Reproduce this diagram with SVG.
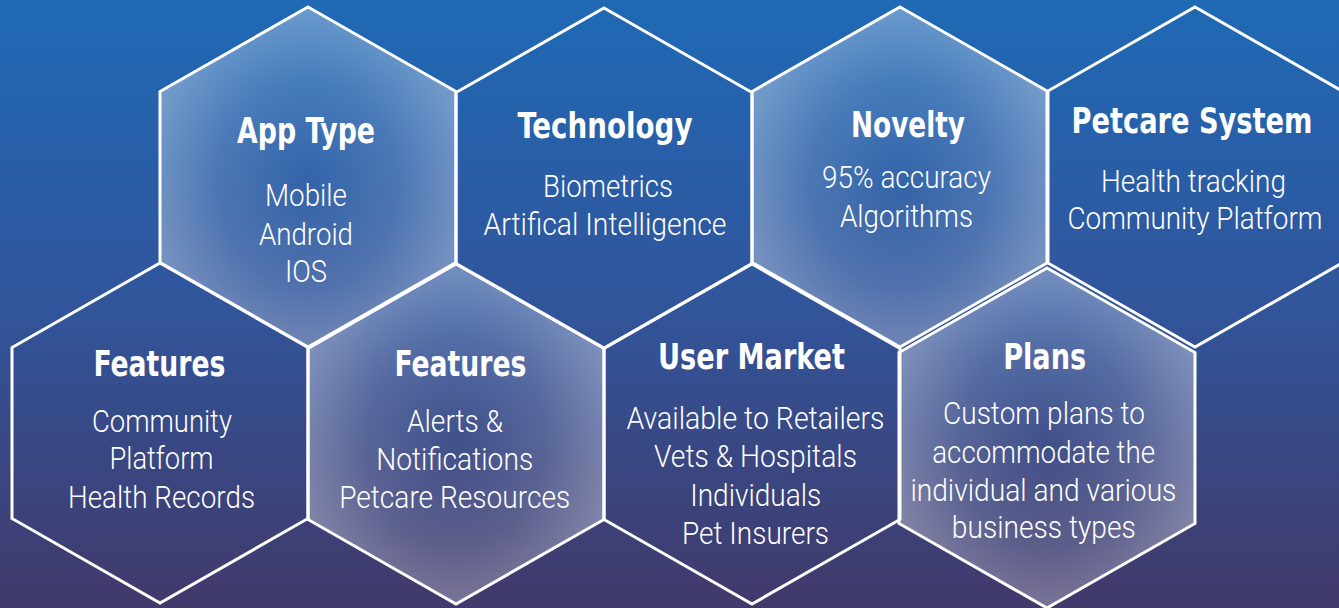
<svg xmlns="http://www.w3.org/2000/svg" width="1339" height="608" viewBox="0 0 1339 608">
<defs>
<linearGradient id="bg" x1="0" y1="0" x2="0" y2="1">
<stop offset="0" stop-color="#1f69b5"/>
<stop offset="0.5" stop-color="#31559b"/>
<stop offset="1" stop-color="#41396a"/>
</linearGradient>
<radialGradient id="glow" cx="0.5" cy="0.52" r="0.55">
<stop offset="0" stop-color="#ffffff" stop-opacity="0.04"/>
<stop offset="0.55" stop-color="#ffffff" stop-opacity="0.16"/>
<stop offset="1" stop-color="#ffffff" stop-opacity="0.36"/>
</radialGradient>
<style>
.hex{fill:none;stroke:#ffffff;stroke-width:3;stroke-linejoin:miter}
.lit{fill:url(#glow)}
.t{font-family:"DejaVu Sans","Liberation Sans",sans-serif;font-weight:bold;font-stretch:condensed;font-size:36px;fill:#ffffff;text-anchor:middle}
.b{font-family:Roboto,"Liberation Sans",sans-serif;font-weight:300;font-size:31px;fill:#ffffff;text-anchor:middle}
</style>
</defs>
<rect x="0" y="0" width="1339" height="608" fill="url(#bg)"/>

<g id="app-type">
<polygon class="hex lit" points="308,7 456,91.5 456,262.5 308,347 160,262.5 160,91.5"/>
<text class="t" x="306" y="143" textLength="138" lengthAdjust="spacingAndGlyphs">App Type</text>
<text class="b" x="306" y="206" textLength="82" lengthAdjust="spacingAndGlyphs">Mobile</text>
<text class="b" x="306" y="245" textLength="94" lengthAdjust="spacingAndGlyphs">Android</text>
<text class="b" x="306" y="282" textLength="42" lengthAdjust="spacingAndGlyphs">IOS</text>
</g>

<g id="technology">
<polygon class="hex" points="604,8 752,92.5 752,263.5 604,348 456,263.5 456,92.5"/>
<text class="t" x="605" y="138" textLength="175" lengthAdjust="spacingAndGlyphs">Technology</text>
<text class="b" x="608" y="196.5" textLength="130" lengthAdjust="spacingAndGlyphs">Biometrics</text>
<text class="b" x="605" y="235" textLength="243" lengthAdjust="spacingAndGlyphs">Artifical Intelligence</text>
</g>

<g id="novelty">
<polygon class="hex lit" points="900,7 1048,91.5 1048,262.5 900,347 752,262.5 752,91.5"/>
<text class="t" x="908" y="137" textLength="114" lengthAdjust="spacingAndGlyphs">Novelty</text>
<text class="b" x="906.5" y="188" textLength="169" lengthAdjust="spacingAndGlyphs">95% accuracy</text>
<text class="b" x="906.5" y="226.5" textLength="133" lengthAdjust="spacingAndGlyphs">Algorithms</text>
</g>

<g id="petcare-system">
<polygon class="hex" points="1195,7 1343,91.5 1343,262.5 1195,347 1047,262.5 1047,91.5"/>
<text class="t" x="1192" y="132.5" textLength="241" lengthAdjust="spacingAndGlyphs">Petcare System</text>
<text class="b" x="1193.5" y="191.5" textLength="185" lengthAdjust="spacingAndGlyphs">Health tracking</text>
<text class="b" x="1195" y="229" textLength="255" lengthAdjust="spacingAndGlyphs">Community Platform</text>
</g>

<g id="features-1">
<polygon class="hex" points="160,263 308,347.5 308,518.5 160,603 12,518.5 12,347.5"/>
<text class="t" x="159.5" y="376" textLength="132" lengthAdjust="spacingAndGlyphs">Features</text>
<text class="b" x="162" y="431.5" textLength="140" lengthAdjust="spacingAndGlyphs">Community</text>
<text class="b" x="161.5" y="469" textLength="104" lengthAdjust="spacingAndGlyphs">Platform</text>
<text class="b" x="161.5" y="508" textLength="187" lengthAdjust="spacingAndGlyphs">Health Records</text>
</g>

<g id="features-2">
<polygon class="hex lit" points="456,264 604,348.5 604,519.5 456,604 308,519.5 308,348.5"/>
<text class="t" x="460.5" y="376" textLength="132" lengthAdjust="spacingAndGlyphs">Features</text>
<text class="b" x="455" y="431.5" textLength="96" lengthAdjust="spacingAndGlyphs">Alerts &amp;</text>
<text class="b" x="454.7" y="470" textLength="157" lengthAdjust="spacingAndGlyphs">Notifications</text>
<text class="b" x="454.7" y="508" textLength="231" lengthAdjust="spacingAndGlyphs">Petcare Resources</text>
</g>

<g id="user-market">
<polygon class="hex" points="752,264 900,348.5 900,519.5 752,604 604,519.5 604,348.5"/>
<text class="t" x="751.5" y="369" textLength="187" lengthAdjust="spacingAndGlyphs">User Market</text>
<text class="b" x="755.5" y="429" textLength="258" lengthAdjust="spacingAndGlyphs">Available to Retailers</text>
<text class="b" x="755.5" y="466.5" textLength="203" lengthAdjust="spacingAndGlyphs">Vets &amp; Hospitals</text>
<text class="b" x="755.7" y="506" textLength="131" lengthAdjust="spacingAndGlyphs">Individuals</text>
<text class="b" x="755.5" y="544" textLength="147" lengthAdjust="spacingAndGlyphs">Pet Insurers</text>
</g>

<g id="plans">
<polygon class="hex lit" points="1047,268 1195,352.5 1195,523.5 1047,608 899,523.5 899,352.5"/>
<text class="t" x="1044.7" y="369" textLength="83" lengthAdjust="spacingAndGlyphs">Plans</text>
<text class="b" x="1044" y="424" textLength="202" lengthAdjust="spacingAndGlyphs">Custom plans to</text>
<text class="b" x="1043.7" y="462.5" textLength="223" lengthAdjust="spacingAndGlyphs">accommodate the</text>
<text class="b" x="1043.4" y="500.5" textLength="266" lengthAdjust="spacingAndGlyphs">individual and various</text>
<text class="b" x="1043.8" y="538" textLength="184" lengthAdjust="spacingAndGlyphs">business types</text>
</g>

<g id="connectors"></g>
</svg>
